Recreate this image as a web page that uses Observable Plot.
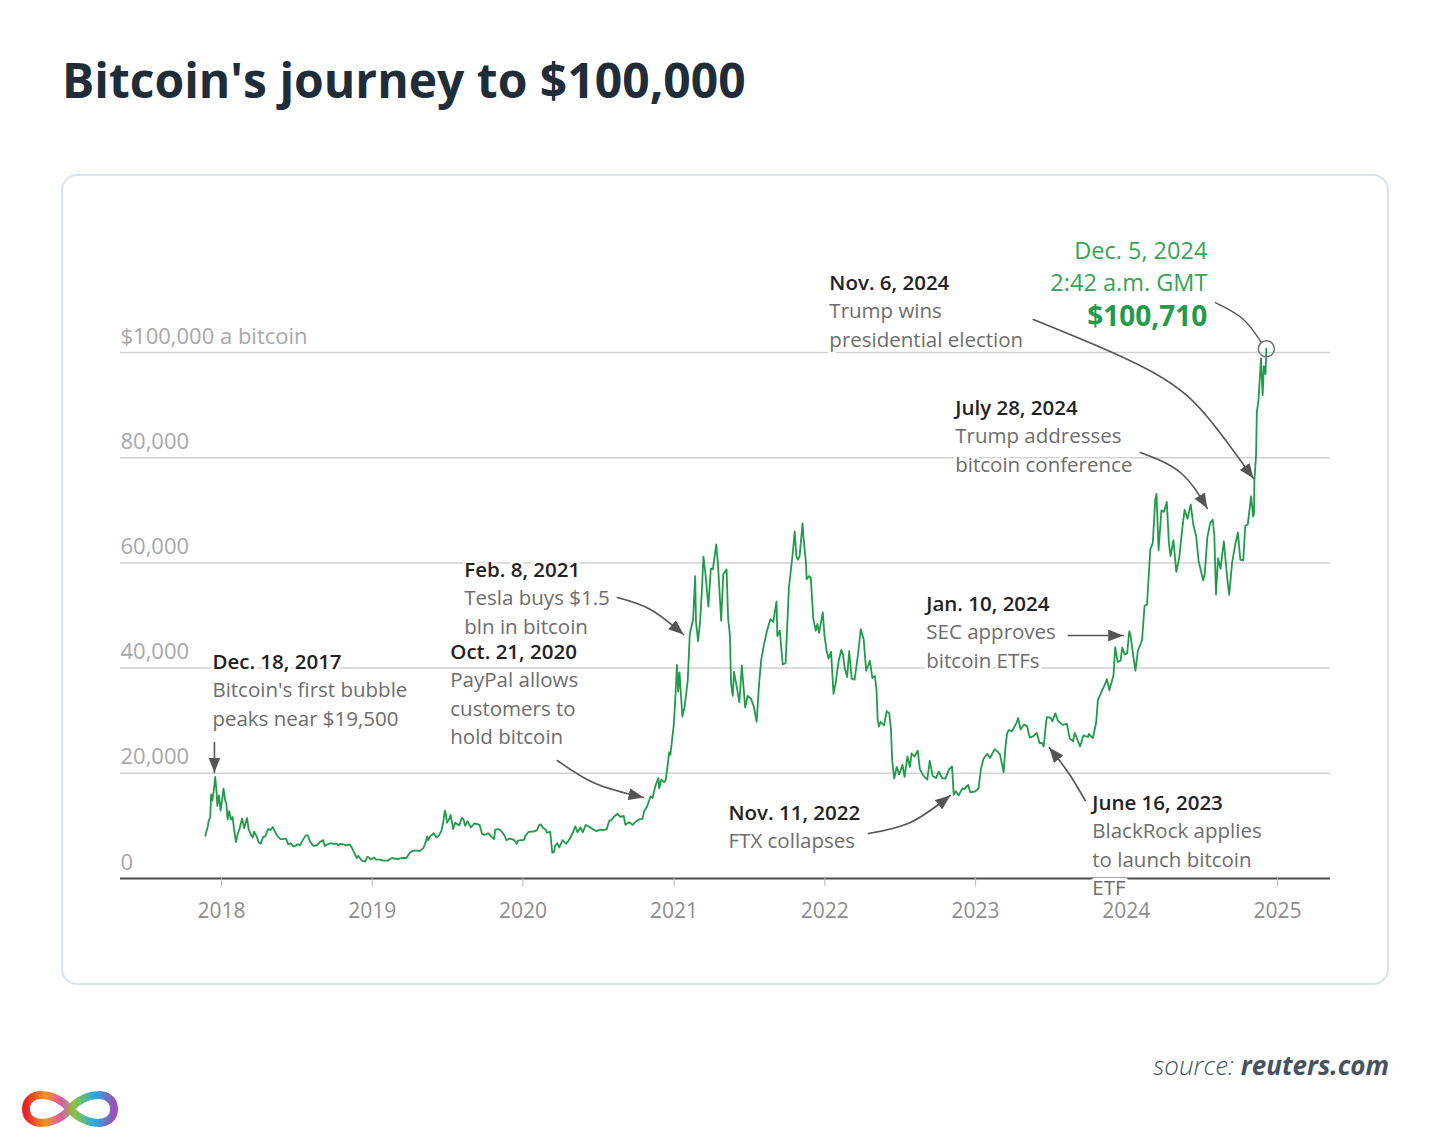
<!DOCTYPE html>
<html><head><meta charset="utf-8">
<script src="https://cdn.jsdelivr.net/npm/d3@7"></script>
<script src="https://cdn.jsdelivr.net/npm/@observablehq/plot@0.6"></script>
<style>
html,body{margin:0;padding:0;background:#fff;}
body{width:1450px;height:1145px;position:relative;overflow:hidden;font-family:"Open Sans",sans-serif;}
#title{position:absolute;left:62px;top:56px;font-size:48px;font-weight:700;color:#1f2d38;line-height:1;white-space:nowrap;margin:0;}
#box{position:absolute;left:61px;top:174px;width:1324px;height:807px;border:2px solid #d8e4ec;border-radius:16px;}
#chart{position:absolute;left:0;top:174px;}
#source{position:absolute;right:61px;top:1052px;font-size:26px;font-style:italic;color:#46535d;line-height:1;white-space:nowrap;}
#source b{font-weight:700}
#source span{font-weight:300}
#logo{position:absolute;left:0;top:1080px;}
</style></head>
<body>
<h1 id="title">Bitcoin's journey to $100,000</h1>
<div id="box"></div>
<div id="chart"></div>
<div id="source"><span>source: </span><b>reuters.com</b></div>
<svg id="logo" width="140" height="60" viewBox="0 1080 140 60">
  <defs><linearGradient id="rb" x1="0" x2="1" y1="0" y2="0">
    <stop offset="0" stop-color="#e3262b"/><stop offset="0.22" stop-color="#f7941d"/>
    <stop offset="0.4" stop-color="#d85aa8"/><stop offset="0.55" stop-color="#8cc63f"/>
    <stop offset="0.78" stop-color="#27aae1"/><stop offset="1" stop-color="#9b51b8"/></linearGradient></defs>
  <path d="M70,1109 C85,1091 114,1090 114,1109 C114,1128 85,1127 70,1109 C55,1091 26,1090 26,1109 C26,1128 55,1127 70,1109 Z" fill="none" stroke="url(#rb)" stroke-width="8"/>
</svg>
<script>
// ---- price series (USD per bitcoin) ----
const p2017 = [["11-23",8100],["11-29",9900],["12-01",10900],["12-05",11700],["12-07",16000],["12-10",14800],["12-13",16500],["12-17",19300],["12-20",16600],["12-22",13800],["12-26",15800],["12-30",12900]];
const p2018 = [["01-03",15200],["01-06",17100],["01-10",14900],["01-13",14200],["01-16",11200],["01-20",12800],["01-24",11200],["01-28",11700],["02-01",9100],["02-05",6900],["02-09",8300],["02-14",9500],["02-20",11400],["02-25",9600],["03-04",11500],["03-08",9400],["03-14",8200],["03-18",7800],["03-21",8900],["03-28",7900],["04-01",6900],["04-06",6600],["04-12",7900],["04-17",8000],["04-24",9400],["04-30",9200],["05-05",9800],["05-10",9000],["05-17",8000],["05-24",7500],["05-29",7500],["06-06",7600],["06-12",6500],["06-18",6700],["06-24",6100],["06-29",6200],["07-04",6500],["07-10",6300],["07-17",7300],["07-24",8200],["07-29",8200],["08-04",7000],["08-10",6300],["08-14",6200],["08-20",6300],["08-27",6900],["09-04",7300],["09-08",6200],["09-15",6500],["09-21",6700],["09-30",6600],["10-08",6600],["10-11",6300],["10-15",6600],["10-24",6500],["10-31",6300],["11-07",6500],["11-14",5700],["11-19",4800],["11-25",3900],["11-28",4300],["12-03",3800],["12-07",3400],["12-15",3200],["12-20",4100],["12-24",4000],["12-28",3600]];
const p2019 = [["01-06",4000],["01-10",3600],["01-20",3600],["01-28",3400],["02-07",3400],["02-18",3900],["02-24",3800],["03-04",3700],["03-15",3900],["03-25",3900],["04-02",4900],["04-10",5300],["04-20",5300],["04-26",5200],["05-05",5800],["05-11",7000],["05-14",8000],["05-17",7300],["05-21",8000],["05-30",8600],["06-06",7800],["06-12",8200],["06-18",9100],["06-22",10700],["06-26",12900],["06-28",12400],["07-01",10600],["07-06",11200],["07-10",12100],["07-16",9400],["07-21",10600],["07-31",10100],["08-06",11500],["08-10",11300],["08-14",10000],["08-20",10900],["08-28",9700],["09-06",10500],["09-18",10200],["09-24",8500],["10-01",8300],["10-09",8600],["10-16",8000],["10-23",7500],["10-26",9300],["11-04",9400],["11-12",8800],["11-18",8100],["11-22",7300],["11-30",7600],["12-06",7500],["12-12",7200],["12-17",6600],["12-20",7200],["12-28",7300]];
const p2020 = [["01-03",7300],["01-07",8100],["01-14",8800],["01-19",8900],["01-27",8900],["02-04",9200],["02-09",10100],["02-13",10300],["02-19",9600],["02-25",9300],["02-28",8700],["03-07",8900],["03-12",4900],["03-16",5000],["03-19",6200],["03-24",6700],["03-29",5900],["04-06",7300],["04-15",6600],["04-23",7500],["04-30",8600],["05-07",9900],["05-12",8800],["05-19",9700],["05-25",8800],["06-01",10200],["06-10",9800],["06-18",9400],["06-27",9000],["07-06",9300],["07-14",9200],["07-22",9400],["07-28",11000],["08-02",11100],["08-10",11900],["08-17",12300],["08-24",11700],["09-01",11900],["09-05",10200],["09-14",10700],["09-23",10200],["09-30",10800],["10-10",11300],["10-16",11300],["10-21",12900],["10-27",13600],["11-05",15600],["11-10",15300],["11-17",17700],["11-24",19100],["11-26",17100],["12-01",18800],["12-08",18300],["12-12",18800],["12-16",21300],["12-20",24000],["12-23",23500],["12-27",26300],["12-31",29000]];
const p2021 = [["01-03",32800],["01-08",40600],["01-11",35500],["01-14",39200],["01-21",30800],["01-26",32400],["01-29",34300],["02-03",37600],["02-08",46400],["02-12",47900],["02-16",49200],["02-21",57500],["02-23",48900],["02-28",45100],["03-05",48800],["03-10",55900],["03-13",61200],["03-18",57900],["03-25",51700],["03-31",58900],["04-05",58800],["04-13",63500],["04-17",60100],["04-25",49000],["04-30",57800],["05-08",58800],["05-12",49200],["05-16",46400],["05-19",37000],["05-23",34700],["05-26",39300],["06-01",36700],["06-08",33500],["06-14",40500],["06-19",35500],["06-22",32500],["06-28",34700],["07-06",34200],["07-13",32700],["07-20",29800],["07-26",37300],["07-31",41600],["08-07",44600],["08-14",47100],["08-22",49300],["08-29",48800],["09-06",52700],["09-08",46100],["09-14",47100],["09-21",40700],["09-28",41000],["10-06",55300],["10-15",61600],["10-20",66000],["10-24",61300],["10-28",60600],["11-01",61300],["11-08",67500],["11-10",65000],["11-16",60300],["11-18",56900],["11-24",57500],["11-28",57200],["12-04",49400],["12-10",47100],["12-14",48400],["12-18",46700],["12-27",50600],["12-31",46300]];
const p2022 = [["01-05",43400],["01-10",41800],["01-16",43100],["01-22",35100],["01-27",37100],["02-04",41600],["02-10",43500],["02-14",42500],["02-18",40000],["02-24",38300],["03-01",43200],["03-07",38000],["03-14",37800],["03-22",42400],["03-29",47400],["04-05",45500],["04-11",39500],["04-20",41400],["04-26",38100],["05-02",38500],["05-06",36000],["05-09",30100],["05-12",28900],["05-16",29800],["05-24",29100],["05-31",31800],["06-06",31400],["06-10",28400],["06-13",22500],["06-18",19000],["06-24",21200],["06-30",19800],["07-08",21600],["07-13",19300],["07-20",23200],["07-26",21200],["07-30",23800],["08-06",23200],["08-14",24300],["08-19",20800],["08-28",19500],["09-06",18800],["09-12",22400],["09-19",19500],["09-27",19100],["10-04",20300],["10-12",19100],["10-20",19000],["10-29",20800],["11-05",21300],["11-09",15900],["11-14",16600],["11-21",15800],["11-30",17100],["12-05",17000],["12-14",17800],["12-19",16400],["12-30",16500]];
const p2023 = [["01-08",17100],["01-14",20900],["01-20",22700],["01-29",23700],["02-05",22900],["02-16",24600],["02-22",24200],["03-01",23600],["03-10",20200],["03-14",24700],["03-18",27500],["03-22",28200],["03-30",28000],["04-10",29600],["04-14",30500],["04-20",28300],["04-28",29300],["05-06",28900],["05-12",26800],["05-20",27000],["05-29",27700],["06-05",25700],["06-10",25800],["06-15",25100],["06-21",30000],["06-23",30700],["07-01",30600],["07-06",29900],["07-13",31400],["07-20",29900],["07-31",29200],["08-10",29400],["08-17",26600],["08-25",26100],["08-29",27700],["09-11",25100],["09-19",27200],["09-30",26900],["10-02",27500],["10-12",26700],["10-20",29700],["10-24",33900],["11-01",35400],["11-09",36700],["11-15",37900],["11-21",35800],["12-01",38700],["12-05",44000],["12-11",41200],["12-18",41400],["12-22",43900],["12-28",42600]];
const p2024 = [["01-03",42800],["01-08",47000],["01-11",46300],["01-17",42700],["01-23",39500],["01-29",43300],["02-08",45300],["02-14",51800],["02-20",52100],["02-28",62500],["03-05",63800],["03-11",72100],["03-14",73100],["03-19",62400],["03-26",70000],["04-01",69700],["04-08",71600],["04-13",63800],["04-17",61300],["04-24",64300],["05-01",58300],["05-08",61000],["05-15",66200],["05-21",70100],["05-28",68400],["06-05",71100],["06-11",67300],["06-18",65100],["06-24",60300],["07-05",56700],["07-09",58000],["07-15",64800],["07-22",67600],["07-28",68200],["08-01",65300],["08-05",54000],["08-10",60900],["08-16",58900],["08-24",64100],["09-01",57300],["09-06",53900],["09-13",60000],["09-20",63200],["09-27",65800],["10-03",60600],["10-10",60500],["10-15",67100],["10-21",67300],["10-29",72700],["11-03",68800],["11-05",69400],["11-06",75600],["11-10",80400],["11-12",88700],["11-16",91000],["11-22",98900],["11-26",91900],["11-29",97400],["12-03",95900],["12-05",100710]];

// ---- axes ----
const yTicks = [0, 20000, 40000, 60000, 80000, 100000];
const yTickLabels = ["0", "20,000", "40,000", "60,000", "80,000", "$100,000 a bitcoin"];
const xTickYears = [2018, 2019, 2020, 2021, 2022, 2023, 2024, 2025];
const xDomainYears = [2017.3305, 2025.3515];

// ---- annotations (position: decimal year, USD) ----
const noteDates = ["Dec. 18, 2017", "Feb. 8, 2021", "Oct. 21, 2020", "Nov. 11, 2022", "June 16, 2023", "Jan. 10, 2024", "July 28, 2024", "Nov. 6, 2024"];
const noteTexts = ["Bitcoin's first bubble\npeaks near $19,500", "Tesla buys $1.5\nbln in bitcoin", "PayPal allows\ncustomers to\nhold bitcoin", "FTX collapses", "BlackRock applies\nto launch bitcoin\nETF", "SEC approves\nbitcoin ETFs", "Trump addresses\nbitcoin conference", "Trump wins\npresidential election"];
const noteX = [2017.940, 2019.611, 2019.518, 2021.361, 2023.774, 2022.673, 2022.865, 2022.030];
const noteY = [41065, 58555, 42966, 12357, 14259, 52091, 89354, 113118];

const peakLines = ["Dec. 5, 2024", "2:42 a.m. GMT"];
const peakLineY = [119199, 113115];
const peakPrice = "$100,710";
const peakPriceY = 106652;
const peakNoteX = 2024.536;

// arrow paths: [decimal year, USD] points
const arrowPaths = [
  [[2017.9536, 25855], [2017.9536, 20152]],
  [[2020.2272, 22433], [2020.4791, 18060], [2020.7973, 15399]],
  [[2020.6249, 53421], [2020.8437, 51140], [2021.0624, 46387]],
  [[2022.2887, 8555], [2022.5671, 10646], [2022.8323, 15779]],
  [[2023.6145, 46197], [2023.9791, 46197]],
  [[2023.7272, 14829], [2023.6145, 20152], [2023.4885, 24904]],
  [[2024.0917, 80987], [2024.3569, 77185], [2024.5359, 70341]],
  [[2023.3825, 106271], [2024.1779, 96196], [2024.5558, 87070], [2024.8408, 76044]]
];
const peakConnector = [[2024.5889, 109503], [2024.7678, 106462], [2024.8938, 101899]];

// ---- helpers ----
function yr(t) {
  const y = Math.floor(t);
  const s = Date.UTC(y, 0, 1), e = Date.UTC(y + 1, 0, 1);
  return new Date(s + (t - y) * (e - s));
}
const allYears = {2017: p2017, 2018: p2018, 2019: p2019, 2020: p2020, 2021: p2021, 2022: p2022, 2023: p2023, 2024: p2024};
const series = [];
for (const [y, arr] of Object.entries(allYears)) {
  for (const [md, v] of arr) series.push({date: new Date(`${y}-${md}T00:00:00Z`), price: v});
}
const last = series[series.length - 1];

const notes = noteDates.map((d, i) => ({date: d, desc: noteTexts[i], x: yr(noteX[i]), y: noteY[i]}));
const peakRows = peakLines.map((t, i) => ({text: t, x: yr(peakNoteX), y: peakLineY[i]}));
const arrowRows = arrowPaths.flatMap((pts, id) => pts.map(([t, v]) => ({id, x: yr(t), y: v})));
const connectorRows = peakConnector.map(([t, v]) => ({x: yr(t), y: v}));

const NS = "http://www.w3.org/2000/svg";
function triangleMarker(color, context) {
  const doc = (context && context.document) || document;
  const m = doc.createElementNS(NS, "marker");
  m.setAttribute("viewBox", "0 -5 10 10");
  m.setAttribute("refX", "10");
  m.setAttribute("refY", "0");
  m.setAttribute("markerUnits", "userSpaceOnUse");
  m.setAttribute("markerWidth", "15");
  m.setAttribute("markerHeight", "12");
  m.setAttribute("orient", "auto");
  m.setAttribute("preserveAspectRatio", "none");
  const p = doc.createElementNS(NS, "path");
  p.setAttribute("d", "M0,-5L10,0L0,5Z");
  p.setAttribute("fill", color);
  p.setAttribute("stroke", "none");
  m.appendChild(p);
  return m;
}

const FONT = '"Open Sans", sans-serif';
const GREEN = "#1f9c4a";

function build(marker) {
  return Plot.plot({
    width: 1450,
    height: 811,
    marginLeft: 120,
    marginRight: 120,
    marginTop: 178,
    marginBottom: 107,
    style: {fontFamily: FONT, background: "transparent", overflow: "visible"},
    x: {type: "utc", domain: xDomainYears.map(yr)},
    y: {domain: [0, 100000], axis: null},
    marks: [
      Plot.ruleY(yTicks.slice(1), {stroke: "#d2d2d2", strokeWidth: 1.5}),
      Plot.ruleY([0], {stroke: "#4d4d4d", strokeWidth: 2}),
      Plot.axisX(xTickYears.map(y => new Date(Date.UTC(y, 0, 1))), {
        tickFormat: d => String(d.getUTCFullYear()),
        tickSize: 8, tickPadding: 17, fontSize: 21,
        stroke: "#b5b5b5", fill: "#8d8d8d", label: null
      }),
      Plot.text(yTicks, {
        y: d => d, frameAnchor: "left", textAnchor: "start", lineAnchor: "middle",
        text: (d, i) => yTickLabels[i], dy: -16, fontSize: 22, fill: "#a8a8a8"
      }),
      Plot.lineY(series, {x: "date", y: "price", stroke: GREEN, strokeWidth: 1.8}),
      Plot.text(notes, {
        x: "x", y: "y", text: "date", textAnchor: "start", lineAnchor: "middle",
        fontSize: 20.5, fontWeight: 600, fill: "#222", stroke: "white", strokeWidth: 6
      }),
      Plot.text(notes, {
        x: "x", y: "y", text: "desc", textAnchor: "start", lineAnchor: "top", dy: 14.5,
        lineHeight: 1.39, fontSize: 20.5, fill: "#6d6d6d", stroke: "white", strokeWidth: 6
      }),
      Plot.line(arrowRows, {
        x: "x", y: "y", z: "id", curve: "natural", stroke: "#555", strokeWidth: 1.6,
        markerEnd: marker
      }),
      Plot.line(connectorRows, {x: "x", y: "y", curve: "natural", stroke: "#555", strokeWidth: 1.4}),
      Plot.text(peakRows, {
        x: "x", y: "y", text: "text", textAnchor: "end", lineAnchor: "middle",
        fontSize: 23.5, fill: "#33a653"
      }),
      Plot.text([peakPrice], {
        x: yr(peakNoteX), y: peakPriceY, text: d => d, textAnchor: "end", lineAnchor: "middle",
        fontSize: 28, fontWeight: 700, fill: GREEN
      }),
      Plot.dot([last], {x: "date", y: "price", r: 8, stroke: "#707070", fill: "none", strokeWidth: 1.5})
    ]
  });
}

let chart;
try { chart = build(triangleMarker); } catch (e) { chart = build("arrow"); }
document.getElementById("chart").appendChild(chart);
</script>
</body></html>
